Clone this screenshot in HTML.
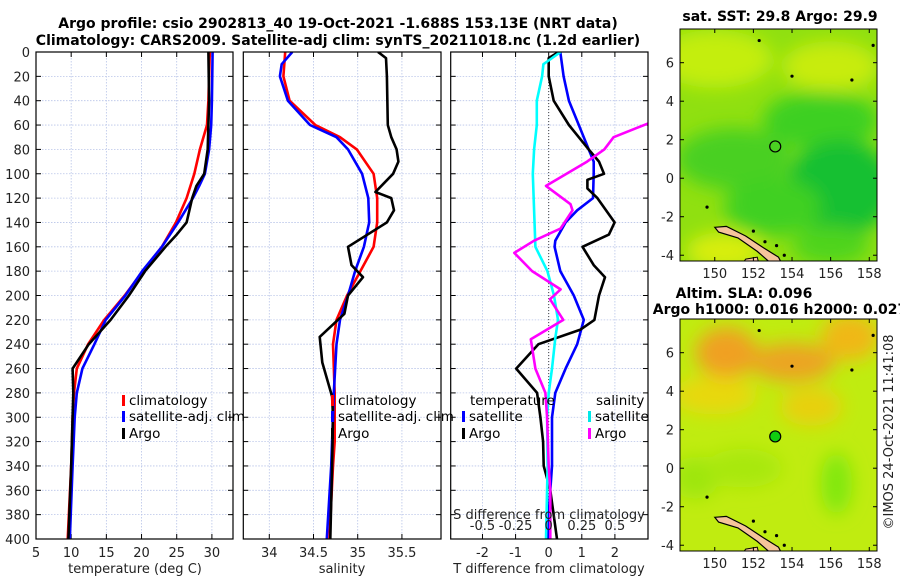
<!DOCTYPE html>
<html><head><meta charset="utf-8">
<style>
html,body{margin:0;padding:0;background:#fff;}
svg{display:block;font-family:"DejaVu Sans","Liberation Sans",sans-serif;}
.t{font-weight:bold;font-size:14px;}
.tk{font-size:13px;fill:#222;}
.lg{font-size:13.5px;fill:#000;}
</style></head>
<body>
<svg id="fig" width="900" height="580" viewBox="0 0 900 580" xmlns="http://www.w3.org/2000/svg">
<text class="t" x="338" y="28" text-anchor="middle">Argo profile: csio 2902813_40 19-Oct-2021 -1.688S 153.13E (NRT data)</text>
<text class="t" x="338" y="45" text-anchor="middle">Climatology: CARS2009. Satellite-adj clim: synTS_20211018.nc (1.2d earlier)</text>
<g id="panels"></g>
<g id="maps"></g>
<text class="tk" font-size="12.5" transform="translate(893,432) rotate(-90)" text-anchor="middle">©IMOS 24-Oct-2021 11:41:08</text>
</svg>
<script>
// ---------- data ----------
const depthTicks = [0,20,40,60,80,100,120,140,160,180,200,220,240,260,280,300,320,340,360,380,400];
const tempTicks = [5,10,15,20,25,30];
const salTicks = [34,34.5,35,35.5];
const tdiffTicks = [-2,-1,0,1,2];
const sdiffTicks = [-0.5,-0.25,0,0.25,0.5];
const sdiffLabels = ["-0.5","-0.25","0","0.25","0.5"];

const tClimDepth = [0,20,40,60,80,100,120,140,160,180,200,220,240,260,280,300,340,400];
const tClim      = [29.7,29.6,29.5,29.3,28.3,27.5,26.4,24.9,22.9,20.2,17.6,14.7,12.4,10.8,10.4,10.2,10.0,9.5];
const tSatDepth = [0,40,60,80,100,110,120,140,160,180,200,220,240,260,280,300,340,400];
const tSat      = [30.1,30.0,29.9,29.6,29.0,28.2,27.3,25.2,22.9,20.1,17.7,14.9,13.3,11.6,10.8,10.5,10.2,9.8];
const tArgoDepth = [0,40,80,100,110,120,140,150,160,180,200,220,240,260,280,300,340,400];
const tArgo      = [29.5,29.6,29.4,28.9,27.8,27.2,26.4,25.0,23.4,20.5,18.2,15.6,12.5,10.2,10.3,10.2,10.0,9.6];

const sClimDepth = [0,20,40,60,70,80,100,120,140,160,180,200,220,240,280,320,340,400];
const sClim      = [34.18,34.16,34.23,34.52,34.80,34.99,35.18,35.22,35.22,35.18,35.03,34.88,34.76,34.72,34.74,34.74,34.72,34.68];
const sSatDepth = [0,10,20,40,60,70,80,100,120,140,160,180,200,220,240,280,340,400];
const sSat      = [34.26,34.14,34.12,34.21,34.46,34.76,34.89,35.05,35.12,35.13,35.07,34.97,34.89,34.80,34.76,34.73,34.70,34.65];
const sArgoDepth = [0,5,20,60,70,80,90,100,115,120,130,140,160,175,185,200,215,234,255,283,300,340,400];
const sArgo      = [35.23,35.32,35.33,35.34,35.38,35.44,35.46,35.40,35.20,35.38,35.41,35.33,34.89,34.93,35.06,34.89,34.85,34.57,34.60,34.71,34.72,34.71,34.69];

const dTSatDepth = [0,20,40,60,80,90,100,120,130,140,155,160,180,200,220,240,260,280,300,340,360,380,400];
const dTSat      = [0.35,0.45,0.61,0.91,1.21,1.36,1.36,1.34,0.86,0.51,0.2,0.18,0.35,0.76,1.06,0.86,0.51,0.2,0.1,0.1,0.05,0.0,-0.02];
const dTArgoDepth = [0,5,20,40,60,80,90,100,105,112,120,140,150,160,175,185,200,220,228,240,260,280,300,320,340,360,400];
const dTArgo      = [0.3,0,0,0.15,0.61,1.21,1.52,1.67,1.17,1.17,1.47,1.99,1.82,1.02,1.36,1.70,1.52,1.38,0.96,-0.31,-0.98,-0.35,-0.25,-0.17,-0.15,0.05,0.25];
const dSSatDepth = [0,7,10,20,40,60,80,100,160,180,200,220,235,260,280,300,340,400];
const dSSat      = [0.09,0,-0.04,-0.05,-0.09,-0.09,-0.11,-0.12,-0.10,-0.01,0.04,0.07,0.05,0.025,0,-0.012,-0.008,-0.02];
const dSArgoDepth = [50,70,80,90,110,125,130,145,155,165,180,195,203,220,236,260,280,300,340,360,400];
const dSArgo      = [0.95,0.49,0.42,0.29,-0.02,0.165,0.18,0.09,-0.11,-0.26,-0.125,0.09,0.01,0.11,-0.135,-0.1,-0.025,-0.012,0,0.012,0.012];

const lonTicks = [150,152,154,156,158];
const latTicks = [-4,-2,0,2,4,6];
const argoLon = 153.13, argoLat = 1.65;

// ---------- helpers ----------
const NS = "http://www.w3.org/2000/svg";
function mk(tag, attrs, parent){ const e=document.createElementNS(NS,tag); for(const k in attrs) e.setAttribute(k,attrs[k]); parent.appendChild(e); return e; }
const panels = document.getElementById('panels');
const Y0=52, Y1=539;
const yD = d => Y0 + d*(Y1-Y0)/400;

function axesBox(x0,x1,xmin,xmax,name){
  const g = mk('g',{},panels);
  
  
  const sx = v => x0 + (v-xmin)*(x1-x0)/(xmax-xmin);
  return {g,sx,x0,x1};
}
function grid(ax, xt){
  depthTicks.forEach(d=>{
    const l=mk('line',{x1:ax.x0,x2:ax.x1,y1:yD(d),y2:yD(d),stroke:'#b8c4e8','stroke-width':0.8,'stroke-dasharray':'1.5,1.5'},ax.g);
     
    mk('line',{x1:ax.x0,x2:ax.x0+5,y1:yD(d),y2:yD(d),stroke:'#000','stroke-width':1},ax.g);
    mk('line',{x1:ax.x1-5,x2:ax.x1,y1:yD(d),y2:yD(d),stroke:'#000','stroke-width':1},ax.g);
  });
  xt.forEach(v=>{
    const x=ax.sx(v);
    const l=mk('line',{x1:x,x2:x,y1:Y0,y2:Y1,stroke:'#b8c4e8','stroke-width':0.8,'stroke-dasharray':'1.5,1.5'},ax.g);
     
    mk('line',{x1:x,x2:x,y1:Y1,y2:Y1-5,stroke:'#000'},ax.g);
    mk('line',{x1:x,x2:x,y1:Y0,y2:Y0+5,stroke:'#000'},ax.g);
    const t=mk('text',{x:x,y:Y1+18,'text-anchor':'middle',class:'tk'},ax.g); t.textContent=String(v);
     
  });
}
function frame(ax){
  const r=mk('rect',{x:ax.x0,y:Y0,width:ax.x1-ax.x0,height:Y1-Y0,fill:'none',stroke:'#000','stroke-width':1.2},ax.g);
   
}
function line(ax, xs, ds, color, name, scale){
  const pts = xs.map((v,i)=>(ax.sx(v*(scale||1))).toFixed(1)+','+yD(ds[i]).toFixed(1)).join(' ');
  const p=mk('polyline',{points:pts,fill:'none',stroke:color,'stroke-width':2.6,'stroke-linejoin':'round','clip-path':'url(#'+ax.clip+')'},ax.g);
  
  
}
function clip(ax,id){
  const defs=mk('defs',{},ax.g); const c=mk('clipPath',{id:id},defs);
  mk('rect',{x:ax.x0,y:Y0,width:ax.x1-ax.x0,height:Y1-Y0},c); ax.clip=id;
}
function legItem(g,x,y,color,label){
  mk('rect',{x:x,y:y-10,width:3,height:11,fill:color},g);
  const t=mk('text',{x:x+7,y:y,class:'lg'},g); t.textContent=label;
   
}

// ---------- panel 1: temperature ----------
const a1 = axesBox(36,233,5,33,'temperature-panel'); clip(a1,'c1'); grid(a1,tempTicks);
depthTicks.forEach(d=>{ const t=mk('text',{x:30,y:yD(d)+5,'text-anchor':'end',class:'tk'},a1.g); t.textContent=String(d);
    });
line(a1,tClim,tClimDepth,'#ff0000','temp-climatology-line');
line(a1,tSat,tSatDepth,'#0000ff','temp-satellite-line');
line(a1,tArgo,tArgoDepth,'#000000','temp-argo-line');
frame(a1);
{ const t=mk('text',{x:135,y:573,'text-anchor':'middle',class:'tk','font-size':'13.5'},a1.g); t.textContent='temperature (deg C)';
    }
{ const lg=mk('g',{},panels);  
  legItem(lg,122,405,'#ff0000','climatology'); legItem(lg,122,421,'#0000ff','satellite-adj. clim'); legItem(lg,122,438,'#000','Argo'); }

// ---------- panel 2: salinity ----------
const a2 = axesBox(243.3,441,33.706,35.942,'salinity-panel'); clip(a2,'c2'); grid(a2,salTicks);
line(a2,sClim,sClimDepth,'#ff0000','sal-climatology-line');
line(a2,sSat,sSatDepth,'#0000ff','sal-satellite-line');
line(a2,sArgo,sArgoDepth,'#000000','sal-argo-line');
frame(a2);
{ const t=mk('text',{x:342,y:573,'text-anchor':'middle',class:'tk','font-size':'13.5'},a2.g); t.textContent='salinity';
    }
{ const lg=mk('g',{},panels);  
  legItem(lg,331,405,'#ff0000','climatology'); legItem(lg,331,421,'#0000ff','satellite-adj. clim'); legItem(lg,331,438,'#000','Argo'); }

// ---------- panel 3: differences ----------
const a3 = axesBox(450.7,648,-2.96,3.0,'difference-panel'); clip(a3,'c3'); grid(a3,tdiffTicks);
mk('line',{x1:a3.sx(0),x2:a3.sx(0),y1:Y0,y2:Y1,stroke:'#444','stroke-width':1,'stroke-dasharray':'1,2'},a3.g);
line(a3,dTSat,dTSatDepth,'#0000ff','tdiff-satellite-line');
line(a3,dTArgo,dTArgoDepth,'#000000','tdiff-argo-line');
line(a3,dSSat,dSSatDepth,'#00ffff','sdiff-satellite-line',4);
line(a3,dSArgo,dSArgoDepth,'#ff00ff','sdiff-argo-line',4);
frame(a3);
sdiffTicks.forEach((v,i)=>{ const t=mk('text',{x:a3.sx(v*4),y:530,'text-anchor':'middle',class:'tk','font-size':'13'},a3.g); t.textContent=sdiffLabels[i];
    });
{ const t=mk('text',{x:549,y:519,'text-anchor':'middle',class:'tk','font-size':'13.5'},a3.g); t.textContent='S difference from climatology';
    }
{ const t=mk('text',{x:549,y:573,'text-anchor':'middle',class:'tk','font-size':'13.5'},a3.g); t.textContent='T difference from climatology';
    }
{ const lg=mk('g',{},panels);  
  const t1=mk('text',{x:470,y:405,class:'lg'},lg); t1.textContent='temperature';
  const t2=mk('text',{x:596,y:405,class:'lg'},lg); t2.textContent='salinity';
  legItem(lg,462,421,'#0000ff','satellite'); legItem(lg,462,438,'#000','Argo');
  legItem(lg,588,421,'#00e8e8','satellite'); legItem(lg,588,438,'#ff00ff','Argo'); }

// ---------- maps ----------
const maps=document.getElementById('maps');
function drawMap(top, bottom, blobs, base, name, filledMarker){
  const g=mk('g',{},maps);
  
  
  const x0=680,x1=877, lonMin=148.2, lonMax=158.4, latMax=7.75, latMin=-4.3;
  const sx=l=>x0+(l-lonMin)*(x1-x0)/(lonMax-lonMin);
  const sy=l=>top+(latMax-l)*(bottom-top)/(latMax-latMin);
  const id='cm'+top, fid='bl'+top;
  const defs=mk('defs',{},g);
  const c=mk('clipPath',{id:id},defs); mk('rect',{x:x0,y:top,width:x1-x0,height:bottom-top},c);
  const f=mk('filter',{id:fid,x:'-50%',y:'-50%',width:'200%',height:'200%'},defs); mk('feGaussianBlur',{stdDeviation:9},f);
  const cg=mk('g',{'clip-path':'url(#'+id+')'},g);
  mk('rect',{x:x0,y:top,width:x1-x0,height:bottom-top,fill:base},cg);
  const bg=mk('g',{filter:'url(#'+fid+')'},cg);
  blobs.forEach(b=>mk('ellipse',{cx:sx(b[0]),cy:sy(b[1]),rx:b[2]*19.3,ry:b[3]*19.3,fill:b[4]},bg));
  mk('path',{d:`M${sx(150.0)},${sy(-2.55)} L${sx(150.6)},${sy(-2.5)} L${sx(151.6)},${sy(-3.0)} L${sx(152.5)},${sy(-3.6)} L${sx(153.3)},${sy(-4.1)} L${sx(153.5)},${sy(-4.5)} L${sx(153.0)},${sy(-4.5)} L${sx(152.2)},${sy(-3.8)} L${sx(151.2)},${sy(-3.1)} L${sx(150.2)},${sy(-2.8)} Z`,fill:'#f5c49a',stroke:'#000','stroke-width':1.2},cg);
  mk('path',{d:`M${sx(151.6)},${sy(-4.2)} L${sx(152.2)},${sy(-4.1)} L${sx(152.3)},${sy(-4.5)} L${sx(151.4)},${sy(-4.5)} Z`,fill:'#f5c49a',stroke:'#000','stroke-width':1},cg);
  [[149.6,-1.5],[152.0,-2.75],[152.6,-3.3],[153.2,-3.5],[153.6,-4.0],[157.1,5.1],[152.3,7.15],[154.0,5.3],[158.2,6.9]].forEach(p=>mk('circle',{cx:sx(p[0]),cy:sy(p[1]),r:1.6,fill:'#000'},cg));
  const m=mk('circle',{cx:sx(argoLon),cy:sy(argoLat),r:5.5,fill:filledMarker?'#10cc10':'none',stroke:'#000','stroke-width':1.2},g);
   
  mk('rect',{x:x0,y:top,width:x1-x0,height:bottom-top,fill:'none',stroke:'#000','stroke-width':1},g);
  lonTicks.forEach(l=>{ const x=sx(l); mk('line',{x1:x,x2:x,y1:bottom,y2:bottom-4,stroke:'#000'},g); mk('line',{x1:x,x2:x,y1:top,y2:top+4,stroke:'#000'},g);
    const t=mk('text',{x:x,y:bottom+17,'text-anchor':'middle',class:'tk'},g); t.textContent=String(l);
      });
  latTicks.forEach(l=>{ const y=sy(l); mk('line',{x1:x0,x2:x0+4,y1:y,y2:y,stroke:'#000'},g); mk('line',{x1:x1-4,x2:x1,y1:y,y2:y,stroke:'#000'},g);
    const t=mk('text',{x:x0-6,y:y+5,'text-anchor':'end',class:'tk'},g); t.textContent=String(l);
      });
}
drawMap(29,261,[
  [150,6.2,3,1.5,'#c4ee10'],[156,5.8,2.5,1.3,'#c8ec10'],[155.5,3,3,1.5,'#3ed020'],
  [151,1,3,1.6,'#48d020'],[156.5,-0.5,2.8,2.5,'#18c030'],[153,-1.5,2.5,1.5,'#40d020'],
  [150.5,-3.8,2,1,'#d8ee10'],[156,-3.5,2,1,'#50d41c']
],'#90e010','sst-map',false);
drawMap(319,551,[
  [150.6,6,1.6,1.3,'#f0a020'],[154,5.5,2.2,1,'#eca424'],[157,6.8,1.5,1.2,'#f0b818'],
  [150,3.8,2.2,1,'#e8d810'],[155,3.2,1.6,1,'#e8d010'],[149,-0.5,1.2,1.1,'#9ee610'],
  [156.3,-0.8,0.8,1.6,'#80e810'],[151.5,0,2,1,'#a8e810']
],'#c0ec10','sla-map',true);
[['sat. SST: 29.8 Argo: 29.9',780,21,'sst-map-title'],['Altim. SLA: 0.096',744,298,'sla-map-title'],['Argo h1000: 0.016 h2000: 0.027',780,314,'sla-map-subtitle']].forEach(a=>{
  const t=mk('text',{x:a[1],y:a[2],'text-anchor':'middle',class:'t','font-size':'13'},maps); t.textContent=a[0];
    });
</script>
</body></html>
